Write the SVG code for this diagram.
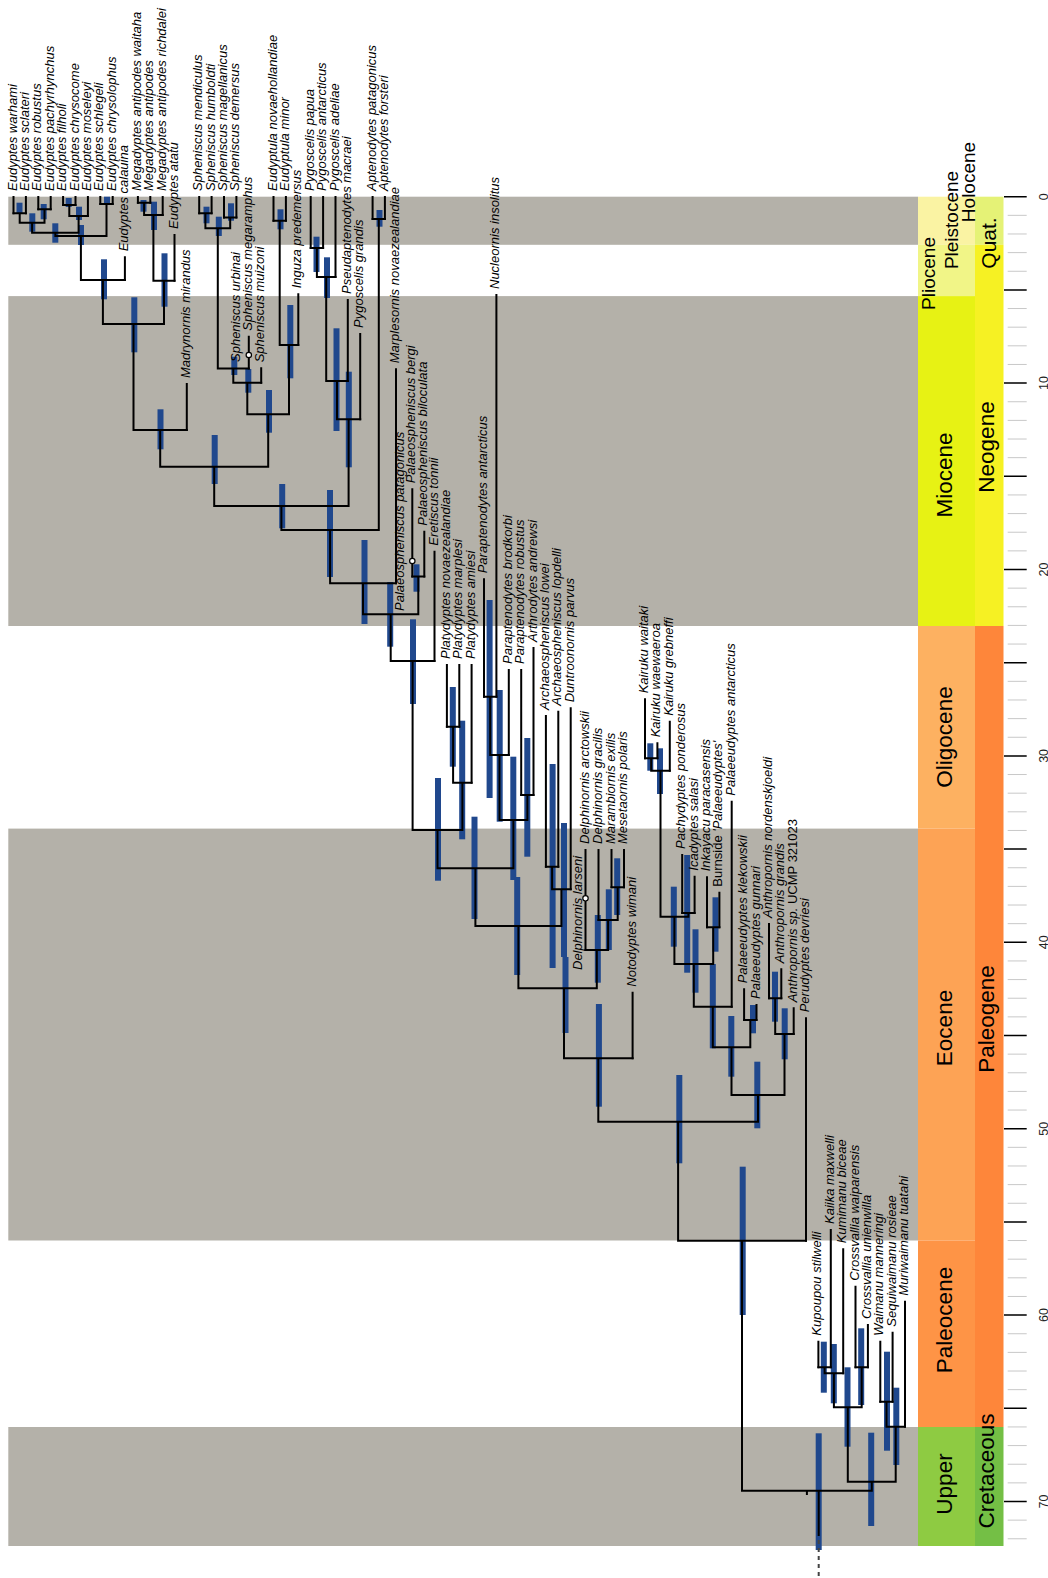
<svg xmlns="http://www.w3.org/2000/svg" width="1048" height="1578" viewBox="0 0 1048 1578">
<style>
.band{fill:#b4b1a9}
.hpd{fill:#20488d}
.br{fill:none;stroke:#000;stroke-width:2;stroke-linecap:square}
.tl{font-family:"Liberation Sans",Arial,sans-serif;font-size:13px;font-style:italic;fill:#000}
.up{font-style:normal}
.sc{font-family:"Liberation Sans",Arial,sans-serif;font-size:22.5px;text-anchor:middle;fill:#000}
.scs{font-size:19px}
.ax{font-family:"Liberation Sans",Arial,sans-serif;font-size:12.5px;text-anchor:middle;fill:#222}
.sa{fill:#fff;stroke:#000;stroke-width:1.2}
</style>
<rect width="1048" height="1578" fill="#fff"/>
<g id="background-bands">
<rect class="band" x="8.3" y="196.7" width="909.7" height="48.1"/>
<rect class="band" x="8.3" y="296.1" width="909.7" height="329.9"/>
<rect class="band" x="8.3" y="828.6" width="909.7" height="411.9"/>
<rect class="band" x="8.3" y="1427" width="909.7" height="119"/>
</g>
<g id="timescale">
<rect x="918" y="196.7" width="57" height="48.1" fill="#faf3a3"/>
<rect x="918" y="244.8" width="57" height="51.3" fill="#f1f587"/>
<rect x="918" y="296.1" width="57" height="329.9" fill="#e7f214"/>
<rect x="918" y="626" width="57" height="202.6" fill="#fdb161"/>
<rect x="918" y="828.6" width="57" height="411.9" fill="#fda355"/>
<rect x="918" y="1240.5" width="57" height="186.5" fill="#fe9446"/>
<rect x="918" y="1427" width="57" height="119" fill="#8ecb42"/>
<rect x="975" y="196.7" width="28.5" height="48.1" fill="#e5f276"/>
<rect x="975" y="244.8" width="28.5" height="381.2" fill="#f6f123"/>
<rect x="975" y="626" width="28.5" height="801" fill="#fe863a"/>
<rect x="975" y="1427" width="28.5" height="119" fill="#74bf45"/>
<text class="sc scs" transform="translate(975,182) rotate(-90)">Holocene</text>
<text class="sc scs" transform="translate(958,220) rotate(-90)">Pleistocene</text>
<text class="sc scs" transform="translate(935,273.5) rotate(-90)">Pliocene</text>
<text class="sc" style="font-size:21px" transform="translate(995.5,243) rotate(-90)">Quat.</text>
<text class="sc" transform="translate(952,475) rotate(-90)">Miocene</text>
<text class="sc" transform="translate(994,447) rotate(-90)">Neogene</text>
<text class="sc" transform="translate(952,737) rotate(-90)">Oligocene</text>
<text class="sc" transform="translate(952,1028) rotate(-90)">Eocene</text>
<text class="sc" transform="translate(994,1019) rotate(-90)">Paleogene</text>
<text class="sc" transform="translate(952,1320) rotate(-90)">Paleocene</text>
<text class="sc" transform="translate(952,1484) rotate(-90)">Upper</text>
<text class="sc" transform="translate(994,1471) rotate(-90)">Cretaceous</text>
<path fill="none" stroke="#c8c8c8" stroke-width="1" d="M1007.7 215.34H1026.7M1007.7 233.98H1026.7M1007.7 252.62H1026.7M1007.7 271.26H1026.7M1007.7 308.54H1026.7M1007.7 327.18H1026.7M1007.7 345.82H1026.7M1007.7 364.46H1026.7M1007.7 401.74H1026.7M1007.7 420.38H1026.7M1007.7 439.02H1026.7M1007.7 457.66H1026.7M1007.7 494.94H1026.7M1007.7 513.58H1026.7M1007.7 532.22H1026.7M1007.7 550.86H1026.7M1007.7 588.14H1026.7M1007.7 606.78H1026.7M1007.7 625.42H1026.7M1007.7 644.06H1026.7M1007.7 681.34H1026.7M1007.7 699.98H1026.7M1007.7 718.62H1026.7M1007.7 737.26H1026.7M1007.7 774.54H1026.7M1007.7 793.18H1026.7M1007.7 811.82H1026.7M1007.7 830.46H1026.7M1007.7 867.74H1026.7M1007.7 886.38H1026.7M1007.7 905.02H1026.7M1007.7 923.66H1026.7M1007.7 960.94H1026.7M1007.7 979.58H1026.7M1007.7 998.22H1026.7M1007.7 1016.86H1026.7M1007.7 1054.14H1026.7M1007.7 1072.78H1026.7M1007.7 1091.42H1026.7M1007.7 1110.06H1026.7M1007.7 1147.34H1026.7M1007.7 1165.98H1026.7M1007.7 1184.62H1026.7M1007.7 1203.26H1026.7M1007.7 1240.54H1026.7M1007.7 1259.18H1026.7M1007.7 1277.82H1026.7M1007.7 1296.46H1026.7M1007.7 1333.74H1026.7M1007.7 1352.38H1026.7M1007.7 1371.02H1026.7M1007.7 1389.66H1026.7M1007.7 1426.94H1026.7M1007.7 1445.58H1026.7M1007.7 1464.22H1026.7M1007.7 1482.86H1026.7M1007.7 1520.14H1026.7M1007.7 1538.78H1026.7"/>
<path fill="none" stroke="#000" stroke-width="1.5" d="M1004 196.7H1026.7M1004 289.9H1026.7M1004 383.1H1026.7M1004 476.3H1026.7M1004 569.5H1026.7M1004 662.7H1026.7M1004 755.9H1026.7M1004 849.1H1026.7M1004 942.3H1026.7M1004 1035.5H1026.7M1004 1128.7H1026.7M1004 1221.9H1026.7M1004 1315.1H1026.7M1004 1408.3H1026.7M1004 1501.5H1026.7"/>
<text class="ax" transform="translate(1047.5,196.7) rotate(-90)">0</text>
<text class="ax" transform="translate(1047.5,383.1) rotate(-90)">10</text>
<text class="ax" transform="translate(1047.5,569.5) rotate(-90)">20</text>
<text class="ax" transform="translate(1047.5,755.9) rotate(-90)">30</text>
<text class="ax" transform="translate(1047.5,942.3) rotate(-90)">40</text>
<text class="ax" transform="translate(1047.5,1128.7) rotate(-90)">50</text>
<text class="ax" transform="translate(1047.5,1315.1) rotate(-90)">60</text>
<text class="ax" transform="translate(1047.5,1501.5) rotate(-90)">70</text>
</g>
<g id="node-bars">
<g id="n-e1"><rect class="hpd" x="16.5" y="202.7" width="6" height="10.6"/></g>
<g id="n-e2"><rect class="hpd" x="40.7" y="204" width="6" height="15.3"/></g>
<g id="n-e3"><rect class="hpd" x="29.3" y="213.3" width="6" height="18.4"/></g>
<g id="n-e4"><rect class="hpd" x="65.7" y="198" width="6" height="9"/></g>
<g id="n-e5"><rect class="hpd" x="76" y="206.7" width="6" height="13.3"/></g>
<g id="n-e6"><rect class="hpd" x="52.3" y="223.3" width="6" height="19.4"/></g>
<g id="n-e7"><rect class="hpd" x="104" y="196.7" width="6" height="8.3"/></g>
<g id="n-e8"><rect class="hpd" x="78" y="225" width="6" height="20"/></g>
<g id="n-e9"><rect class="hpd" x="101" y="259.3" width="6" height="40"/></g>
<g id="n-m1"><rect class="hpd" x="140.5" y="200" width="6" height="11.7"/></g>
<g id="n-m2"><rect class="hpd" x="151" y="201.7" width="6" height="28.3"/></g>
<g id="n-m3"><rect class="hpd" x="161.5" y="253.3" width="6" height="53.4"/></g>
<g id="n-e10"><rect class="hpd" x="131.3" y="297.3" width="6" height="55"/></g>
<g id="n-e11"><rect class="hpd" x="157.5" y="409.3" width="6" height="40"/></g>
<g id="n-s1"><rect class="hpd" x="203.5" y="206.7" width="6" height="16.6"/></g>
<g id="n-s2"><rect class="hpd" x="228" y="203.3" width="6" height="17.4"/></g>
<g id="n-s3"><rect class="hpd" x="215.8" y="216.7" width="6" height="19.3"/></g>
<g id="n-s4"><rect class="hpd" x="231.3" y="356.7" width="6" height="18.3"/></g>
<g id="n-s5"><rect class="hpd" x="245.3" y="369" width="6" height="23.7"/></g>
<g id="n-u1"><rect class="hpd" x="277.5" y="209.3" width="6" height="20"/></g>
<g id="n-u2"><rect class="hpd" x="287.3" y="305" width="6" height="73.3"/></g>
<g id="n-s6"><rect class="hpd" x="266" y="390" width="6" height="42.7"/></g>
<g id="n-e12"><rect class="hpd" x="211.7" y="435" width="6" height="49"/></g>
<g id="n-p1"><rect class="hpd" x="313.5" y="236.7" width="6" height="35.3"/></g>
<g id="n-p2"><rect class="hpd" x="324" y="257.3" width="6" height="40.7"/></g>
<g id="n-p3"><rect class="hpd" x="333.5" y="328.3" width="6" height="102.7"/></g>
<g id="n-p4"><rect class="hpd" x="345.8" y="371.7" width="6" height="95.6"/></g>
<g id="n-e13"><rect class="hpd" x="279.2" y="484" width="6" height="44.3"/></g>
<g id="n-a1"><rect class="hpd" x="376.5" y="210" width="6" height="16.7"/></g>
<g id="n-c0"><rect class="hpd" x="327" y="490" width="6" height="87"/></g>
<g id="n-c1"><rect class="hpd" x="361.5" y="540" width="6" height="84"/></g>
<g id="n-ps"><rect class="hpd" x="413.5" y="564.3" width="6" height="27.4"/></g>
<g id="n-c2"><rect class="hpd" x="387.2" y="582" width="6" height="64.7"/></g>
<g id="n-c3"><rect class="hpd" x="410" y="619.3" width="6" height="84.7"/></g>
<g id="n-pl1"><rect class="hpd" x="449.8" y="687" width="6" height="79.7"/></g>
<g id="n-pl2"><rect class="hpd" x="459.2" y="720.7" width="6" height="118.6"/></g>
<g id="n-c4"><rect class="hpd" x="435" y="778" width="6" height="102.7"/></g>
<g id="n-n1"><rect class="hpd" x="486.6" y="600" width="6" height="198"/></g>
<g id="n-n2"><rect class="hpd" x="496.7" y="690" width="6" height="131.7"/></g>
<g id="n-n3"><rect class="hpd" x="524.3" y="738" width="6" height="118.7"/></g>
<g id="n-n4"><rect class="hpd" x="510.3" y="756.7" width="6" height="123.3"/></g>
<g id="n-c5"><rect class="hpd" x="471.5" y="816.7" width="6" height="102.3"/></g>
<g id="n-ar1"><rect class="hpd" x="549.6" y="764" width="6" height="204"/></g>
<g id="n-ar2"><rect class="hpd" x="561" y="823" width="6" height="134"/></g>
<g id="n-c6"><rect class="hpd" x="514.2" y="877" width="6" height="98"/></g>
<g id="n-d1"><rect class="hpd" x="614.2" y="858.3" width="6" height="56.7"/></g>
<g id="n-d2"><rect class="hpd" x="605.8" y="889.3" width="6" height="60.7"/></g>
<g id="n-d3"><rect class="hpd" x="594.8" y="915" width="6" height="67.7"/></g>
<g id="n-c7"><rect class="hpd" x="562.5" y="957" width="6" height="76"/></g>
<g id="n-c8"><rect class="hpd" x="595.9" y="1004" width="6" height="102.7"/></g>
<g id="n-k1"><rect class="hpd" x="647.3" y="743.3" width="6" height="27.4"/></g>
<g id="n-k2"><rect class="hpd" x="657" y="748.3" width="6" height="45.7"/></g>
<g id="n-pi1"><rect class="hpd" x="684.2" y="855" width="6" height="117.7"/></g>
<g id="n-k3"><rect class="hpd" x="670.8" y="886.7" width="6" height="60"/></g>
<g id="n-ib"><rect class="hpd" x="712.5" y="897.3" width="6" height="54.4"/></g>
<g id="n-k4"><rect class="hpd" x="692.5" y="929.3" width="6" height="63.4"/></g>
<g id="n-k5"><rect class="hpd" x="709.8" y="964" width="6" height="84.3"/></g>
<g id="n-pg"><rect class="hpd" x="750" y="1005" width="6" height="28.3"/></g>
<g id="n-k6"><rect class="hpd" x="728.3" y="1016" width="6" height="60.7"/></g>
<g id="n-an1"><rect class="hpd" x="772" y="971.7" width="6" height="50"/></g>
<g id="n-an2"><rect class="hpd" x="781.7" y="1008.3" width="6" height="51"/></g>
<g id="n-k7"><rect class="hpd" x="754.3" y="1061.7" width="6" height="66.6"/></g>
<g id="n-c9"><rect class="hpd" x="676.3" y="1075" width="6" height="88.3"/></g>
<g id="n-c10"><rect class="hpd" x="739.7" y="1166.7" width="6" height="148.3"/></g>
<g id="n-w1"><rect class="hpd" x="820.8" y="1341.7" width="6" height="51"/></g>
<g id="n-w2"><rect class="hpd" x="830.8" y="1344" width="6" height="59.3"/></g>
<g id="n-w3"><rect class="hpd" x="858.2" y="1328.3" width="6" height="76.7"/></g>
<g id="n-w4"><rect class="hpd" x="844.5" y="1367.3" width="6" height="79.4"/></g>
<g id="n-w5"><rect class="hpd" x="884" y="1351.7" width="6" height="99"/></g>
<g id="n-w6"><rect class="hpd" x="893.3" y="1387.7" width="6" height="77.3"/></g>
<g id="n-w7"><rect class="hpd" x="868.2" y="1432.7" width="6" height="93.3"/></g>
<g id="n-root"><rect class="hpd" x="815.7" y="1433.3" width="6" height="116.7"/></g>
</g>
<g id="connectors">
<path class="br" d="M13.5 197V213.3M25.9 197V213.3M38.3 197V209.3M50.7 197V209.3M63.1 197V205M75.5 197V205M87.9 197V216M100.3 197V204M112.7 197V204M124.9 257.3V280M137.9 197V202.7M150.3 197V202.7M162.7 197V215M174.5 235V280.7M186.8 384V430M199.2 197V213.3M211.6 197V213.3M224 197V217.5M236.4 197V217.5M248.8 336.7V368.5M261.2 368.3V382.7M273.5 197V220.7M285.9 197V220.7M298.3 294.3V345M310.7 197V248M323.1 197V248M335.5 197V277M347.8 300V381M360.2 334V419.3M372.6 197V219M384.9 197V219M396 369.3V583.3M412.3 489.3V576.5M424.3 531.7V576.5M434.5 551.7V661M446.9 665V726.7M459.3 665V726.7M471.6 665V782.7M484 579.3V696.7M496.4 295V696.7M508.8 670V755M521.2 670V795M533.5 648V795M545.9 716V866.7M558.3 711.7V866.7M570.7 708.3V889.3M585.5 850V950M598.5 850V920M611.5 850V887.3M624 850V887.3M632.6 992.7V1058.3M645 699.3V758.3M657.4 743.3V758.3M669.8 721.7V770.7M682.2 855V913M694.6 876.7V913M707 877.3V927.3M719.4 892.7V927.3M731.7 801.7V1006.7M744.1 989.3V1020M756.5 1005V1020M769 924V998.3M781.3 969.3V998.3M793.7 1008.3V1034M806 1018.3V1240.7M818.4 1341.7V1367.3M830.8 1230V1367.3M843.2 1249.3V1373.3M855.5 1286.7V1367.3M867.9 1325V1367.3M880.3 1341.7V1401.7M892.6 1332.7V1401.7M905 1301.7V1426.7"/>
<path class="br" d="M13.5 213.3H25.9M19.7 213.3V222.7M38.3 209.3H50.7M44.5 209.3V222.7M19.7 222.7H44.5M32.1 222.7V232.7M63.1 205H75.5M69.3 205V216M69.3 216H87.9M78.6 216V232.7M32.1 232.7H78.6M55.35 232.7V236M100.3 204H112.7M106.5 204V236M55.35 236H106.5M80.9 236V280M80.9 280H124.9M102.9 280V324M137.9 202.7H150.3M144.1 202.7V215M144.1 215H162.7M153.4 215V280.7M153.4 280.7H174.5M164 280.7V324M102.9 324H164M133.5 324V430M133.5 430H186.8M160.2 430V466.7M199.2 213.3H211.6M205.4 213.3V228.3M224 217.5H236.4M230.2 217.5V228.3M205.4 228.3H230.2M217.8 228.3V368.5M217.8 368.5H248.8M233.3 368.5V382.7M233.3 382.7H261.2M247.3 382.7V414.3M273.5 220.7H285.9M279.7 220.7V345M279.7 345H298.3M289 345V414.3M247.3 414.3H289M268.2 414.3V466.7M160.2 466.7H268.2M214.2 466.7V506M310.7 248H323.1M316.9 248V277M316.9 277H335.5M326.2 277V381M326.2 381H347.8M337 381V419.3M337 419.3H360.2M348.6 419.3V506M214.2 506H348.6M281.4 506V530M372.6 219H384.9M378.8 219V530M281.4 530H378.8M330.1 530V583.3M330.1 583.3H396M363 583.3V614.3M412.3 576.5H424.3M418.3 576.5V614.3M363 614.3H418.3M390.7 614.3V661M390.7 661H434.5M412.6 661V830M446.9 726.7H459.3M453.1 726.7V782.7M453.1 782.7H471.6M462.4 782.7V830M412.6 830H462.4M437.5 830V868.3M484 696.7H496.4M490.2 696.7V755M490.2 755H508.8M499.5 755V820M521.2 795H533.5M527.4 795V820M499.5 820H527.4M513.4 820V868.3M437.5 868.3H513.4M475.4 868.3V926M545.9 866.7H558.3M552.1 866.7V889.3M552.1 889.3H570.7M561.4 889.3V926M475.4 926H561.4M518.4 926V988.3M611.5 887.3H624M617.7 887.3V920M598.5 920H617.7M608.1 920V950M585.5 950H608.1M596.8 950V988.3M518.4 988.3H596.8M564 988.3V1058.3M564 1058.3H632.6M598.3 1058.3V1121.7M645 758.3H657.4M651.2 758.3V770.7M651.2 770.7H669.8M660.5 770.7V916.7M682.2 913H694.6M688.4 913V916.7M660.5 916.7H688.4M674.4 916.7V964M707 927.3H719.4M713.2 927.3V964M674.4 964H713.2M693.8 964V1006.7M693.8 1006.7H731.7M712.8 1006.7V1047.3M744.1 1020H756.5M750.3 1020V1047.3M712.8 1047.3H750.3M731.5 1047.3V1095M769 998.3H781.3M775.2 998.3V1034M775.2 1034H793.7M784.5 1034V1095M731.5 1095H784.5M758 1095V1121.7M598.3 1121.7H758M678.1 1121.7V1240.7M678.1 1240.7H806M742 1240.7V1490.7M818.4 1367.3H830.8M824.6 1367.3V1373.3M824.6 1373.3H843.2M833.9 1373.3V1407.3M855.5 1367.3H867.9M861.7 1367.3V1407.3M833.9 1407.3H861.7M847.8 1407.3V1481.7M880.3 1401.7H892.6M886.5 1401.7V1426.7M886.5 1426.7H905M895.7 1426.7V1481.7M847.8 1481.7H895.7M871.8 1481.7V1490.7M742 1490.7H871.8M806.9 1490.7V1494M818.7 1490.7V1535"/>
<path d="M818.7 1540V1578" fill="none" stroke="#444" stroke-width="2" stroke-dasharray="4 4"/>
</g>
<g id="sampled-ancestors">
<g id="sa-urbinai"><circle class="sa" cx="248.8" cy="355" r="2.7"/><text class="tl" transform="translate(240,362) rotate(-90)">Spheniscus urbinai</text></g>
<g id="sa-patagonicus"><circle class="sa" cx="412.3" cy="561" r="2.7"/><text class="tl" transform="translate(403.5,611) rotate(-90)">Palaeospheniscus patagonicus</text></g>
<g id="sa-larseni"><circle class="sa" cx="585.5" cy="898.3" r="2.7"/><text class="tl" transform="translate(582,970) rotate(-90)">Delphinornis larseni</text></g>
</g>
<g id="tips">
<g id="t1"><text class="tl" transform="translate(16.5,191) rotate(-90)">Eudyptes warhami</text></g>
<g id="t2"><text class="tl" transform="translate(28.9,191) rotate(-90)">Eudyptes sclateri</text></g>
<g id="t3"><text class="tl" transform="translate(41.3,191) rotate(-90)">Eudyptes robustus</text></g>
<g id="t4"><text class="tl" transform="translate(53.7,191) rotate(-90)">Eudyptes pachyrhynchus</text></g>
<g id="t5"><text class="tl" transform="translate(66.1,191) rotate(-90)">Eudyptes filholi</text></g>
<g id="t6"><text class="tl" transform="translate(78.5,191) rotate(-90)">Eudyptes chrysocome</text></g>
<g id="t7"><text class="tl" transform="translate(90.9,191) rotate(-90)">Eudyptes moseleyi</text></g>
<g id="t8"><text class="tl" transform="translate(103.3,191) rotate(-90)">Eudyptes schlegeli</text></g>
<g id="t9"><text class="tl" transform="translate(115.7,191) rotate(-90)">Eudyptes chrysolophus</text></g>
<g id="t10"><text class="tl" transform="translate(127.9,251.3) rotate(-90)">Eudyptes calauina</text></g>
<g id="t11"><text class="tl" transform="translate(140.9,191) rotate(-90)">Megadyptes antipodes waitaha</text></g>
<g id="t12"><text class="tl" transform="translate(153.3,191) rotate(-90)">Megadyptes antipodes</text></g>
<g id="t13"><text class="tl" transform="translate(165.7,191) rotate(-90)">Megadyptes antipodes richdalei</text></g>
<g id="t14"><text class="tl" transform="translate(177.5,229) rotate(-90)">Eudyptes atatu</text></g>
<g id="t15"><text class="tl" transform="translate(189.8,378) rotate(-90)">Madrynornis mirandus</text></g>
<g id="t16"><text class="tl" transform="translate(202.2,191) rotate(-90)">Spheniscus mendiculus</text></g>
<g id="t17"><text class="tl" transform="translate(214.6,191) rotate(-90)">Spheniscus humboldti</text></g>
<g id="t18"><text class="tl" transform="translate(227,191) rotate(-90)">Spheniscus magellanicus</text></g>
<g id="t19"><text class="tl" transform="translate(239.4,191) rotate(-90)">Spheniscus demersus</text></g>
<g id="t20"><text class="tl" transform="translate(251.8,330.7) rotate(-90)">Spheniscus megaramphus</text></g>
<g id="t21"><text class="tl" transform="translate(264.2,362.3) rotate(-90)">Spheniscus muizoni</text></g>
<g id="t22"><text class="tl" transform="translate(276.5,191) rotate(-90)">Eudyptula novaehollandiae</text></g>
<g id="t23"><text class="tl" transform="translate(288.9,191) rotate(-90)">Eudyptula minor</text></g>
<g id="t24"><text class="tl" transform="translate(301.3,288.3) rotate(-90)">Inguza predemersus</text></g>
<g id="t25"><text class="tl" transform="translate(313.7,191) rotate(-90)">Pygoscelis papua</text></g>
<g id="t26"><text class="tl" transform="translate(326.1,191) rotate(-90)">Pygoscelis antarcticus</text></g>
<g id="t27"><text class="tl" transform="translate(338.5,191) rotate(-90)">Pygoscelis adeliae</text></g>
<g id="t28"><text class="tl" transform="translate(350.8,294) rotate(-90)">Pseudaptenodytes macraei</text></g>
<g id="t29"><text class="tl" transform="translate(363.2,328) rotate(-90)">Pygoscelis grandis</text></g>
<g id="t30"><text class="tl" transform="translate(375.6,191) rotate(-90)">Aptenodytes patagonicus</text></g>
<g id="t31"><text class="tl" transform="translate(387.9,191) rotate(-90)">Aptenodytes forsteri</text></g>
<g id="t32"><text class="tl" transform="translate(399,363.3) rotate(-90)">Marplesornis novaezealandiae</text></g>
<g id="t33"><text class="tl" transform="translate(415.3,483.3) rotate(-90)">Palaeospheniscus bergi</text></g>
<g id="t34"><text class="tl" transform="translate(427.3,525.7) rotate(-90)">Palaeospheniscus biloculata</text></g>
<g id="t35"><text class="tl" transform="translate(437.5,545.7) rotate(-90)">Eretiscus tonnii</text></g>
<g id="t36"><text class="tl" transform="translate(449.9,659) rotate(-90)">Platydyptes novaezealandiae</text></g>
<g id="t37"><text class="tl" transform="translate(462.3,659) rotate(-90)">Platydyptes marplesi</text></g>
<g id="t38"><text class="tl" transform="translate(474.6,659) rotate(-90)">Platydyptes amiesi</text></g>
<g id="t39"><text class="tl" transform="translate(487,573.3) rotate(-90)">Paraptenodytes antarcticus</text></g>
<g id="t40"><text class="tl" transform="translate(499.4,289) rotate(-90)">Nucleornis insolitus</text></g>
<g id="t41"><text class="tl" transform="translate(511.8,664) rotate(-90)">Paraptenodytes brodkorbi</text></g>
<g id="t42"><text class="tl" transform="translate(524.2,664) rotate(-90)">Paraptenodytes robustus</text></g>
<g id="t43"><text class="tl" transform="translate(536.5,642) rotate(-90)">Arthrodytes andrewsi</text></g>
<g id="t44"><text class="tl" transform="translate(548.9,710) rotate(-90)">Archaeospheniscus lowei</text></g>
<g id="t45"><text class="tl" transform="translate(561.3,705.7) rotate(-90)">Archaeospheniscus lopdelli</text></g>
<g id="t46"><text class="tl" transform="translate(573.7,702.3) rotate(-90)">Duntroonornis parvus</text></g>
<g id="t47"><text class="tl" transform="translate(588.5,844) rotate(-90)">Delphinornis arctowskii</text></g>
<g id="t48"><text class="tl" transform="translate(601.5,844) rotate(-90)">Delphinornis gracilis</text></g>
<g id="t49"><text class="tl" transform="translate(614.5,844) rotate(-90)">Marambiornis exilis</text></g>
<g id="t50"><text class="tl" transform="translate(627,844) rotate(-90)">Mesetaornis polaris</text></g>
<g id="t51"><text class="tl" transform="translate(635.6,986.7) rotate(-90)">Notodyptes wimani</text></g>
<g id="t52"><text class="tl" transform="translate(648,693.3) rotate(-90)">Kairuku waitaki</text></g>
<g id="t53"><text class="tl" transform="translate(660.4,737.3) rotate(-90)">Kairuku waewaeroa</text></g>
<g id="t54"><text class="tl" transform="translate(672.8,715.7) rotate(-90)">Kairuku grebneffi</text></g>
<g id="t55"><text class="tl" transform="translate(685.2,849) rotate(-90)">Pachydyptes ponderosus</text></g>
<g id="t56"><text class="tl" transform="translate(697.6,870.7) rotate(-90)">Icadyptes salasi</text></g>
<g id="t57"><text class="tl" transform="translate(710,871.3) rotate(-90)">Inkayacu paracasensis</text></g>
<g id="t58"><text class="tl" transform="translate(722.4,886.7) rotate(-90)"><tspan class="up">Burnside </tspan>'Palaeeudyptes'</text></g>
<g id="t59"><text class="tl" transform="translate(734.7,795.7) rotate(-90)">Palaeeudyptes antarcticus</text></g>
<g id="t60"><text class="tl" transform="translate(747.1,983.3) rotate(-90)">Palaeeudyptes klekowskii</text></g>
<g id="t61"><text class="tl" transform="translate(759.5,999) rotate(-90)">Palaeeudyptes gunnari</text></g>
<g id="t62"><text class="tl" transform="translate(772,918) rotate(-90)">Anthropornis nordenskjoeldi</text></g>
<g id="t63"><text class="tl" transform="translate(784.3,963.3) rotate(-90)">Anthropornis grandis</text></g>
<g id="t64"><text class="tl" transform="translate(796.7,1002.3) rotate(-90)">Anthropornis sp. <tspan class="up">UCMP 321023</tspan></text></g>
<g id="t65"><text class="tl" transform="translate(809,1012.3) rotate(-90)">Perudyptes devriesi</text></g>
<g id="t66"><text class="tl" transform="translate(821.4,1335.7) rotate(-90)">Kupoupou stilwelli</text></g>
<g id="t67"><text class="tl" transform="translate(833.8,1224) rotate(-90)">Kaiika maxwelli</text></g>
<g id="t68"><text class="tl" transform="translate(846.2,1243.3) rotate(-90)">Kumimanu biceae</text></g>
<g id="t69"><text class="tl" transform="translate(858.5,1280.7) rotate(-90)">Crossvallia waiparensis</text></g>
<g id="t70"><text class="tl" transform="translate(870.9,1319) rotate(-90)">Crossvallia unienwilla</text></g>
<g id="t71"><text class="tl" transform="translate(883.3,1335.7) rotate(-90)">Waimanu manneringi</text></g>
<g id="t72"><text class="tl" transform="translate(895.6,1326.7) rotate(-90)">Sequiwaimanu rosieae</text></g>
<g id="t73"><text class="tl" transform="translate(908,1295.7) rotate(-90)">Muriwaimanu tuatahi</text></g>
</g>
</svg>
